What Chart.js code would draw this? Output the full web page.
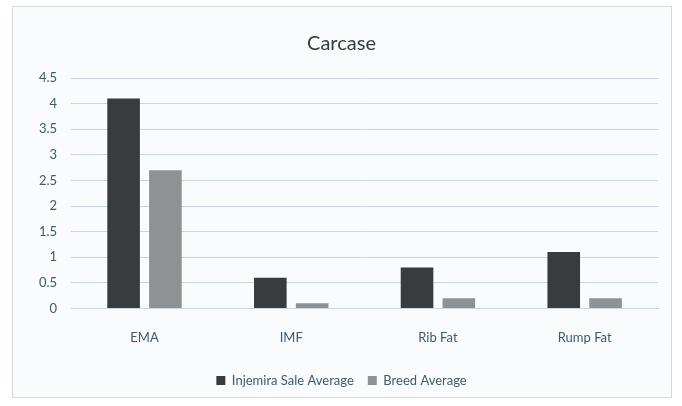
<!DOCTYPE html>
<html>
<head>
<meta charset="utf-8">
<script src="https://cdn.jsdelivr.net/npm/chart.js@4"></script>
<style>
  body { margin: 0; background: #ffffff; }
  #wrap {
    position: absolute; left: 12px; top: 6px;
    width: 658px; height: 390px;
    border: 1px solid #d5dbe0;
    background: #fafbfc;
  }
</style>
</head>
<body>
<div id="wrap"><canvas id="carcaseChart" width="658" height="390"></canvas></div>
<script>
const categories = ["EMA", "IMF", "Rib Fat", "Rump Fat"];
const saleAverage = [4.1, 0.6, 0.8, 1.1];
const breedAverage = [2.7, 0.1, 0.2, 0.2];

const textColor = "#3d5a6e";

const ctx = document.getElementById("carcaseChart").getContext("2d");
new Chart(ctx, {
  type: "bar",
  data: {
    labels: categories,
    datasets: [
      {
        label: "Injemira Sale Average",
        data: saleAverage,
        backgroundColor: "#3a3b3d",
        categoryPercentage: 0.57,
        barPercentage: 0.78
      },
      {
        label: "Breed Average",
        data: breedAverage,
        backgroundColor: "#8f9193",
        categoryPercentage: 0.57,
        barPercentage: 0.78
      }
    ]
  },
  options: {
    responsive: false,
    animation: false,
    layout: { padding: { left: 12, right: 13, top: 8, bottom: 0 } },
    plugins: {
      title: {
        display: true,
        text: "Carcase",
        color: "#333d45",
        font: { family: "Lato", size: 20, weight: "normal" },
        padding: { top: 17, bottom: 22 }
      },
      legend: {
        position: "bottom",
        labels: {
          color: textColor,
          font: { family: "Lato", size: 13 },
          boxWidth: 9,
          boxHeight: 9,
          padding: 14
        }
      },
      tooltip: { enabled: false }
    },
    scales: {
      x: {
        grid: { display: false },
        border: { color: "#c9d6e0" },
        ticks: { color: textColor, font: { family: "Lato", size: 13 }, padding: 14 }
      },
      y: {
        min: 0,
        max: 4.5,
        ticks: {
          stepSize: 0.5,
          color: textColor,
          font: { family: "Lato", size: 13 },
          padding: 14,
          callback: (v) => String(v)
        },
        grid: { color: "#c9d6e0", drawTicks: false },
        border: { display: false }
      }
    }
  }
});
</script>
</body>
</html>
